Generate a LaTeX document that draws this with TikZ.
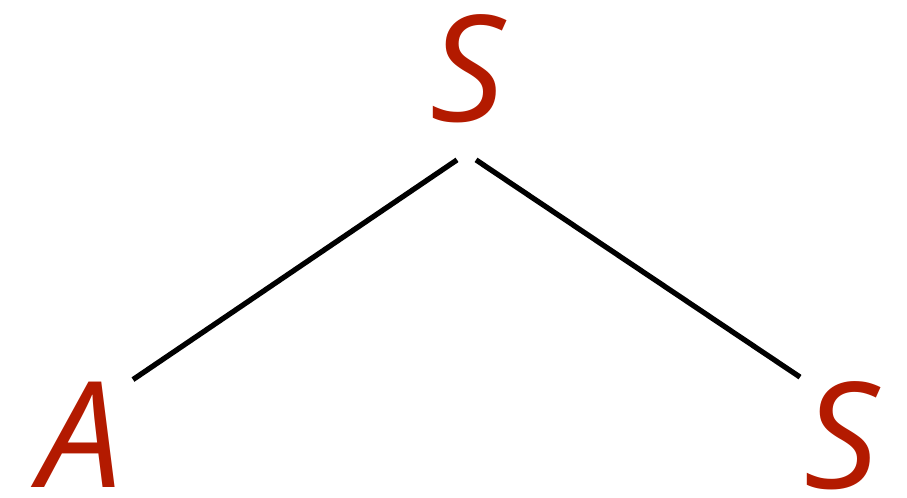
\documentclass[tikz,border=0pt]{standalone}
\usepackage{fontspec}
\setmainfont{Open Sans}
\usetikzlibrary{calc}
\definecolor{cred}{HTML}{B31A00}
\tikzset{
  sym/.style={text=cred, font=\fontsize{42}{42}\selectfont\itshape, inner sep=0pt},
  branch/.style={draw=black, line width=1.5pt},
}
\begin{document}
\begin{tikzpicture}[x=0.01cm, y=0.01cm]
  \useasboundingbox (0,0) rectangle (907,497);
  \node[sym] (root) at (468,428) {S};
  \node[sym] (lchild) at (81,62) {A};
  \node[sym] (rchild) at (842,61) {S};
  % branch ends
  \coordinate (rootl) at ($(root.south)+(-11,-36)$);
  \coordinate (rootr) at ($(root.south)+(8,-36)$);
  \coordinate (lend) at ($(lchild.north)+(52,2)$);
  \coordinate (rend) at ($(rchild.north)+(-42,4)$);
  \draw[branch] (rootl) -- (lend);
  \draw[branch] (rootr) -- (rend);
\end{tikzpicture}
\end{document}
